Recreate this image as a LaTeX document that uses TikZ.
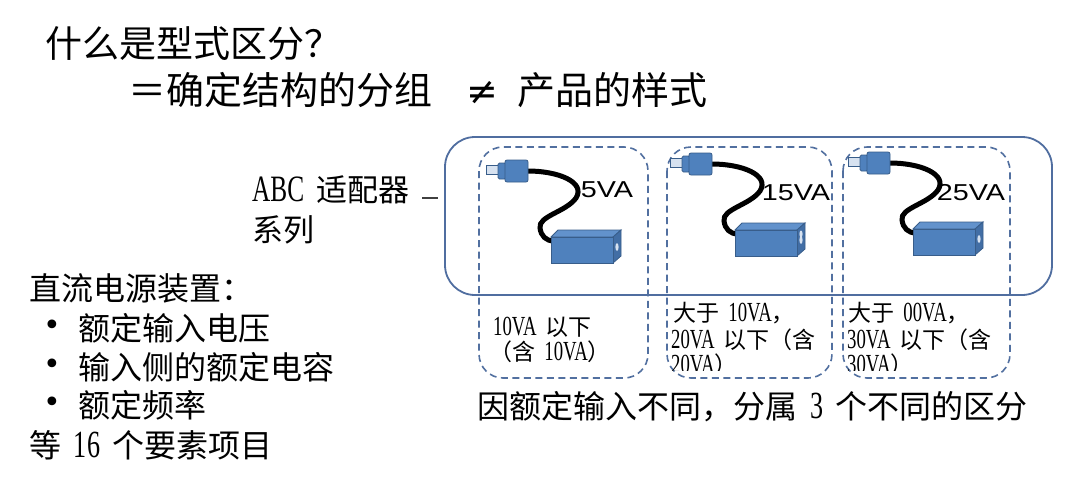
\documentclass[tikz,border=0pt]{standalone}
\usepackage{fontspec}
\setmainfont{Noto Sans CJK SC}
\newfontfamily\lat[Scale=1.2,FakeStretch=0.68]{Liberation Serif}
\newfontfamily\symf{DejaVu Sans}
\newfontfamily\arialf{Liberation Sans}
\newcommand\gap{\hspace{0.4em}}
\definecolor{frameblue}{RGB}{80,110,160}
\definecolor{dashblue}{RGB}{82,112,160}
\definecolor{plugblue}{RGB}{79,129,189}
\definecolor{plugdark}{RGB}{56,93,138}
\definecolor{topblue}{RGB}{98,146,204}
\definecolor{sideblue}{RGB}{66,110,165}
\definecolor{tipfill}{RGB}{215,226,240}
\tikzset{
  txt/.style={inner sep=0pt, anchor=west, text=black},
  big/.style={font=\fontsize{37}{40}\selectfont},
  mid/.style={font=\fontsize{32}{36}\selectfont},
  med/.style={font=\fontsize{31}{34}\selectfont},
  small/.style={font=\fontsize{23}{25}\selectfont},
  bul/.style={inner sep=0pt, font=\symf\fontsize{30}{30}\selectfont},
  frame/.style={draw=frameblue, line width=1.8pt, rounded corners=30pt},
  group/.style={draw=dashblue, line width=1.6pt, dash pattern=on 7pt off 4.5pt, rounded corners=24pt},
  cable/.style={line width=5pt, black, line cap=round},
  valabel/.style={inner sep=0pt, font=\arialf\fontsize{23}{23}\selectfont, xscale=1.25},
  partline/.style={draw=plugdark, line width=0.8pt},
  pics/adapter/.style={code={
    \draw[cable] (42,1) .. controls (72,1) and (100,12) .. (90,28) .. controls (80,42) and (52,46) .. (54,58) .. controls (55,66) and (60,71) .. (68,71);
    \draw[partline, fill=tipfill] (0,-5) rectangle (13,4);
    \draw[partline, fill=plugblue, rounded corners=1.5pt] (12,-7) rectangle (20,9);
    \draw[partline, fill=plugblue, rounded corners=2pt] (19,-10) rectangle (42,12);
    \draw[partline, fill=topblue] (65,67) -- (72,60) -- (135,60) -- (127,67) -- cycle;
    \draw[partline, fill=sideblue] (127,67) -- (135,60) -- (135,86) -- (127,93) -- cycle;
    \draw[partline, fill=plugblue] (65,67) rectangle (127,93);
    \fill[tipfill] (131,77) ellipse [x radius=1.6, y radius=4];
  }}
}
\begin{document}
\begin{tikzpicture}[x=1pt,y=-1pt]
\useasboundingbox[fill=white] (0,0) rectangle (1084,482);

% titles
\node[txt,big] (title) at (45,44) {什么是型式区分？};
\node[txt,big,font=\fontsize{38}{40}\selectfont] (sub) at (128,90) {＝确定结构的分组\hspace{32pt}\makebox[36pt]{\symf ≠}\hspace{17pt}产品的样式};

% left texts
\node[txt,med] (abc) at (252,190) {{\lat ABC}\gap 适配器};
\node[txt,med] (series) at (252,230) {系列};
\coordinate (dashL) at (422,198);
\coordinate (dashR) at (438,198);
\draw[line width=2pt, draw=black!75] (dashL) -- (dashR);

\node[txt,mid] (dc) at (29,288) {直流电源装置：};
\node[bul] (b1) at (52,328) {•};
\node[bul] (b2) at (52,367) {•};
\node[bul] (b3) at (52,405) {•};
\node[txt,mid] (i1) at (78,328) {额定输入电压};
\node[txt,mid] (i2) at (78,367) {输入侧的额定电容};
\node[txt,mid] (i3) at (78,405) {额定频率};
\node[txt,mid] (etc) at (29,445) {等\gap{\lat 16}\gap 个要素项目};

% frames
\draw[frame] (445,137) rectangle (1052,295);
\draw[group] (479,147) rectangle (648,378);
\draw[group] (667,147) rectangle (832,378);
\draw[group] (843,147) rectangle (1010,378);

% adapters
\pic (ad1) at (486,170) {adapter};
\pic (ad2) at (670,163) {adapter};
\fill[tipfill] (670+131,163+71) ellipse [x radius=1.6, y radius=3.5];
\pic (ad3) at (848,162) {adapter};

\node[valabel] (v1) at (607,190) {5VA};
\node[valabel] (v2) at (796,193) {15VA};
\node[valabel] (v3) at (971,193) {25VA};

% box texts
\node[txt,small] (t11) at (493,327) {{\lat 10VA}\gap 以下};
\node[txt,small] (t12) at (489,352) {（含\gap{\lat 10VA}）};
\begin{scope}
\clip (660,290) rectangle (1020,370);
\node[txt,small] (t21) at (673,313) {大于\gap{\lat 10VA}，};
\node[txt,small] (t22) at (671,340) {{\lat 20VA}\gap 以下（含};
\node[txt,small] (t23) at (671,365) {{\lat 20VA}）};
\node[txt,small] (t31) at (848,313) {大于\gap{\lat 00VA}，};
\node[txt,small] (t32) at (847,340) {{\lat 30VA}\gap 以下（含};
\node[txt,small] (t33) at (847,365) {{\lat 30VA}）};
\end{scope}

\node[txt,font=\fontsize{32}{34}\selectfont] (bottom) at (477,407) {因额定输入不同，分属\gap{\lat 3}\gap 个不同的区分};
\end{tikzpicture}
\end{document}
